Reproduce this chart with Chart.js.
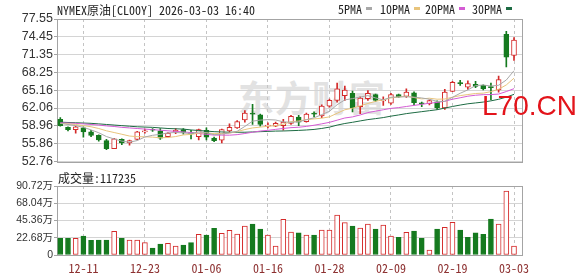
<!DOCTYPE html>
<html>
<head>
<meta charset="utf-8">
<script src="https://cdn.jsdelivr.net/npm/chart.js@4.4.1/dist/chart.umd.min.js"></script>
<style>
  html, body { margin: 0; padding: 0; background: #fff; }
  #wrap { position: relative; width: 578px; height: 276px; overflow: hidden; }
  canvas { position: absolute; left: 0; z-index: 1; }
  .pix { position: absolute; font: 12px "Noto Sans Mono CJK SC", "Liberation Mono", monospace; color: #222; white-space: pre; line-height: 12px; z-index: 2; }
  .sw { position: absolute; width: 6px; height: 3px; z-index: 2; }
  #mark { position: absolute; left: 238px; top: 70px; font: bold 36px "Noto Sans CJK SC", sans-serif; color: #e2e2e2; letter-spacing: 1px; z-index: 0; }
  #site { position: absolute; left: 482px; top: 90px; font: 28px "Liberation Sans", Arial, sans-serif; color: #e3141b; z-index: 3; line-height: 32px; }
</style>
</head>
<body>
<div id="wrap">
  <div id="mark">东方财富</div>
  <canvas id="price" width="578" height="170" style="top:0"></canvas>
  <canvas id="vol" width="578" height="106" style="top:170px"></canvas>
  <div class="pix" style="left:57px;top:4px">NYMEX原油[CL00Y] 2026-03-03 16:40</div>
  <div id="legend"></div>
  <div class="pix" style="left:58px;top:172px">成交量:117235</div>
  <div id="site">L70.CN</div>
</div>
<script>
"use strict";

const dates = ['12-08','12-09','12-10','12-11','12-12','12-15','12-16','12-17','12-18','12-19',
  '12-22','12-23','12-24','12-26','12-29','12-30','12-31','01-02','01-05','01-06',
  '01-07','01-08','01-09','01-12','01-13','01-14','01-15','01-16','01-19','01-20',
  '01-21','01-22','01-23','01-26','01-27','01-28','01-29','01-30','02-02','02-03',
  '02-04','02-05','02-06','02-09','02-10','02-11','02-12','02-13','02-16','02-17',
  '02-18','02-19','02-20','02-23','02-24','02-25','02-26','02-27','03-02','03-03'];

const open = [60.1, 58.7, 58.3, 58.6, 57.9, 57.3, 56.4, 55.0, 56.6, 56.0,
  56.6, 57.9, 58.3, 58.1, 57.1, 57.9, 58.3, 57.8, 57.1, 58.2,
  56.85, 56.45, 58.1, 58.6, 60.0, 61.2, 60.9, 58.9, 58.9, 59.0,
  59.4, 60.5, 59.7, 61.1, 60.7, 62.4, 63.4, 64.2, 64.6, 62.3,
  63.7, 64.4, 63.3, 62.9, 64.4, 64.1, 64.7, 62.9, 62.8, 63.15,
  62.1, 64.97, 66.5, 65.7, 66.2, 66.0, 65.7, 65.2, 74.9, 71.2];
const high = [60.4, 58.8, 58.9, 58.8, 58.2, 57.4, 56.6, 56.8, 56.7, 56.5,
  58.0, 58.4, 58.5, 58.5, 57.8, 58.5, 58.5, 58.2, 58.4, 58.6,
  57.0, 58.4, 59.3, 59.9, 61.6, 62.7, 61.0, 59.5, 59.6, 60.1,
  60.8, 60.8, 61.2, 61.4, 62.6, 63.6, 66.4, 65.9, 65.0, 64.0,
  65.1, 64.5, 64.0, 64.6, 64.5, 65.4, 64.9, 63.1, 63.5, 63.3,
  65.3, 66.7, 66.9, 66.8, 66.7, 66.1, 66.4, 67.6, 75.4, 74.3];
const low = [58.9, 58.1, 57.7, 57.0, 57.1, 56.3, 54.8, 55.0, 55.7, 55.6,
  56.5, 57.7, 58.0, 56.6, 57.0, 57.6, 57.5, 56.7, 56.5, 56.5,
  56.2, 56.0, 57.8, 58.5, 59.6, 59.2, 58.9, 58.6, 58.8, 58.2,
  59.2, 59.0, 59.6, 60.5, 60.4, 62.2, 63.1, 63.4, 61.4, 61.1,
  63.4, 63.2, 62.5, 62.7, 63.9, 63.9, 62.6, 62.3, 62.6, 61.8,
  61.8, 64.9, 66.0, 65.3, 65.6, 65.2, 63.5, 64.8, 69.2, 70.35];
const close = [59.0, 58.3, 58.8, 57.9, 57.3, 56.5, 55.0, 56.7, 56.0, 56.4,
  57.9, 58.1, 58.2, 56.8, 57.7, 58.2, 57.8, 57.6, 58.3, 57.0,
  56.4, 58.3, 58.7, 59.7, 61.2, 61.0, 59.2, 59.1, 59.4, 59.6,
  60.6, 59.6, 61.0, 61.0, 62.4, 63.4, 65.4, 65.2, 62.1, 63.8,
  64.6, 63.4, 63.5, 64.4, 64.0, 64.85, 63.0, 62.8, 63.35, 62.1,
  64.85, 66.55, 66.3, 66.3, 65.8, 65.4, 65.6, 67.0, 70.9, 73.9];

const ma5 = [59.4, 59.2, 59.0, 58.7, 58.26, 57.76, 57.1, 56.68, 56.3, 56.12,
  56.4, 57.02, 57.32, 57.48, 57.74, 57.8, 57.74, 57.62, 57.92, 57.78,
  57.42, 57.52, 57.74, 58.02, 58.86, 59.78, 59.96, 60.04, 59.98, 59.66,
  59.58, 59.66, 60.04, 60.36, 60.92, 61.48, 62.64, 63.48, 63.7, 63.98,
  64.22, 63.82, 63.48, 63.94, 63.98, 64.03, 63.95, 63.81, 63.6, 63.22,
  63.22, 63.93, 64.63, 65.22, 65.96, 66.07, 65.88, 66.02, 66.94, 68.56];
const ma10 = [59.4, 59.3, 59.2, 59.0, 58.8, 58.5, 58.1, 57.8, 57.5, 57.19,
  57.08, 57.06, 57.0, 56.89, 56.93, 57.1, 57.38, 57.47, 57.7, 57.76,
  57.61, 57.63, 57.68, 57.97, 58.32, 58.6, 58.74, 58.89, 59.0, 59.26,
  59.68, 59.81, 60.04, 60.17, 60.29, 60.53, 61.15, 61.76, 62.03, 62.45,
  62.85, 63.23, 63.48, 63.82, 63.98, 64.13, 63.89, 63.65, 63.77, 63.6,
  63.63, 63.94, 64.22, 64.41, 64.59, 64.65, 64.91, 65.33, 66.08, 67.26];
const ma20 = [59.5, 59.45, 59.4, 59.3, 59.2, 59.1, 58.95, 58.85, 58.7, 58.6,
  58.5, 58.4, 58.3, 58.2, 58.1, 58.0, 57.9, 57.8, 57.65, 57.48,
  57.35, 57.35, 57.34, 57.43, 57.63, 57.85, 58.06, 58.18, 58.35, 58.51,
  58.65, 58.72, 58.86, 59.07, 59.31, 59.57, 59.95, 60.33, 60.52, 60.86,
  61.27, 61.52, 61.76, 62.0, 62.14, 62.33, 62.52, 62.7, 62.9, 63.03,
  63.24, 63.59, 63.85, 64.12, 64.29, 64.39, 64.4, 64.49, 64.93, 65.43];
const ma30 = [59.6, 59.55, 59.5, 59.45, 59.4, 59.3, 59.2, 59.1, 59.0, 58.9,
  58.8, 58.75, 58.7, 58.6, 58.5, 58.45, 58.4, 58.25, 58.15, 58.05,
  57.95, 57.9, 57.85, 57.85, 57.85, 57.9, 57.95, 58.0, 58.05, 58.07,
  58.12, 58.17, 58.24, 58.34, 58.51, 58.74, 59.09, 59.37, 59.58, 59.82,
  60.05, 60.22, 60.4, 60.65, 60.86, 61.09, 61.26, 61.43, 61.6, 61.77,
  62.05, 62.33, 62.58, 62.8, 62.95, 63.1, 63.31, 63.58, 63.96, 64.44];

// volume in 万 (10k contracts)
const volume = [21.9, 21.9, 21.9, 25.0, 19.3, 19.7, 19.7, 31.1, 21.9, 19.7,
  19.7, 16.2, 9.2, 14.5, 15.3, 11.8, 13.1, 16.2, 27.2, 26.3,
  35.0, 28.5, 32.4, 27.6, 38.1, 40.8, 34.2, 26.3, 11.8, 46.9,
  30.2, 29.3, 26.3, 26.3, 32.9, 32.9, 52.6, 42.5, 38.1, 35.5,
  40.8, 34.2, 39.4, 25.0, 23.2, 29.8, 31.5, 21.9, 6.6, 34.2,
  36.4, 43.0, 32.9, 23.2, 29.3, 27.2, 47.3, 40.8, 84.1, 11.7235];
const volUp = [0,0,1,0,0,0,0,1,0,1, 1,1,0,0,1,1,0,0,1,0, 0,1,1,1,1,0,0,1,1,1,
  1,0,1,0,1,1,1,1,0,1, 1,0,1,1,0,1,0,0,1,0, 1,1,0,0,0,0,0,1,1,1];

const priceTicks = [52.76, 55.86, 58.96, 62.06, 65.16, 68.25, 71.35, 74.45, 77.55];
const volTicks = [0, 22.68, 45.36, 68.04, 90.72];

const maNames = ['5PMA', '10PMA', '20PMA', '30PMA'];
const maColors = ['#a8a8a8', '#e8c47c', '#d45cd4', '#1d6b43'];
const maSeries = [ma5, ma10, ma20, ma30];

const RED = '#d42a2a';
const GREEN = '#157a1f';
const labelIdx = dates.map((d, i) => i).filter(i => i % 8 === 3);

// legend in header
const legendX = [338, 380, 425, 472];
const legend = document.getElementById('legend');
maNames.forEach((n, k) => {
  const t = document.createElement('div');
  t.className = 'pix';
  t.style.left = legendX[k] + 'px';
  t.style.top = '3px';
  t.textContent = n;
  legend.appendChild(t);
  const s = document.createElement('div');
  s.className = 'sw';
  s.style.left = (legendX[k] + n.length * 6 + 4) + 'px';
  s.style.top = '7px';
  s.style.background = maColors[k];
  legend.appendChild(s);
});

const frame = {
  id: 'frame',
  beforeDatasetsDraw(chart) {
    const a = chart.chartArea, ctx = chart.ctx;
    ctx.save();
    ctx.strokeStyle = '#a4a4a4';
    ctx.lineWidth = 1;
    ctx.strokeRect(Math.round(a.left) + 0.5, Math.round(a.top) + 0.5,
      Math.round(a.right - a.left) - 1, Math.round(a.bottom - a.top));
    ctx.restore();
  }
};

function xScale(showLabels) {
  return {
    type: 'linear',
    offset: false,
    min: -0.43,
    max: 60.17,
    afterBuildTicks: s => { s.ticks = labelIdx.map(v => ({ value: v })); },
    afterFit: s => { s.height = showLabels ? 21 : 0; },
    grid: { color: '#c4c4c4', drawTicks: false, offset: false },
    border: { display: false, dash: [3, 3] },
    ticks: {
      display: showLabels,
      autoSkip: false,
      maxRotation: 0,
      padding: 6,
      color: '#8c2f2f',
      font: { family: '"Noto Sans Mono CJK SC", "Liberation Mono", monospace', size: 12 },
      callback: v => dates[v]
    }
  };
}

function yScale(ticks, fmt, fontSize) {
  return {
    min: ticks[0],
    max: ticks[ticks.length - 1],
    afterBuildTicks: s => { s.ticks = ticks.map(v => ({ value: v })); },
    afterFit: s => { s.width = 57; },
    grid: { color: '#d4d4d4', tickLength: 3, tickColor: '#a4a4a4' },
    border: { color: '#a4a4a4' },
    ticks: {
      autoSkip: false,
      padding: 1,
      color: '#333',
      font: { family: '"Liberation Sans", "Noto Sans CJK SC", sans-serif', size: fontSize },
      callback: fmt
    }
  };
}

const idx = dates.map((d, i) => i);
const up = idx.map(i => close[i] >= open[i]);

new Chart(document.getElementById('price'), {
  type: 'bar',
  data: {
    datasets: [
      ...maSeries.map((s, k) => ({
        type: 'line',
        label: maNames[k],
        data: idx.map(i => ({ x: i, y: s[i] })),
        borderColor: maColors[k],
        borderWidth: 1,
        pointRadius: 0,
        tension: 0,
        order: 0
      })),
      {
        label: 'body',
        data: idx.map(i => ({ x: i, y: [open[i], close[i]] })),
        backgroundColor: idx.map(i => up[i] ? '#ffffff' : GREEN),
        borderColor: idx.map(i => up[i] ? RED : GREEN),
        borderWidth: 1,
        borderSkipped: false,
        barThickness: 5,
        minBarLength: 1,
        grouped: false,
        order: 1
      },
      {
        label: 'wick',
        data: idx.map(i => ({ x: i, y: [low[i], high[i]] })),
        backgroundColor: idx.map(i => up[i] ? RED : GREEN),
        borderWidth: 0,
        barThickness: 1,
        grouped: false,
        order: 2
      }
    ]
  },
  options: {
    responsive: false,
    animation: false,
    layout: { padding: { left: 0, right: 55, top: 19, bottom: 5 } },
    plugins: { legend: { display: false }, tooltip: { enabled: false } },
    scales: {
      x: xScale(false),
      y: yScale(priceTicks, v => v.toFixed(2), 12.5)
    }
  },
  plugins: [frame]
});

new Chart(document.getElementById('vol'), {
  type: 'bar',
  data: {
    datasets: [{
      label: '成交量',
      data: idx.map(i => ({ x: i, y: volume[i] })),
      backgroundColor: idx.map(i => volUp[i] ? '#ffffff' : GREEN),
      borderColor: idx.map(i => volUp[i] ? RED : GREEN),
      borderWidth: 1,
      borderSkipped: false,
      barThickness: 5,
      grouped: false
    }]
  },
  options: {
    responsive: false,
    animation: false,
    layout: { padding: { left: 0, right: 55, top: 16, bottom: 0 } },
    plugins: { legend: { display: false }, tooltip: { enabled: false } },
    scales: {
      x: xScale(true),
      y: yScale(volTicks, v => v === 0 ? '0' : v.toFixed(2) + '万', 10.5)
    }
  },
  plugins: [frame]
});
</script>
</body>
</html>
